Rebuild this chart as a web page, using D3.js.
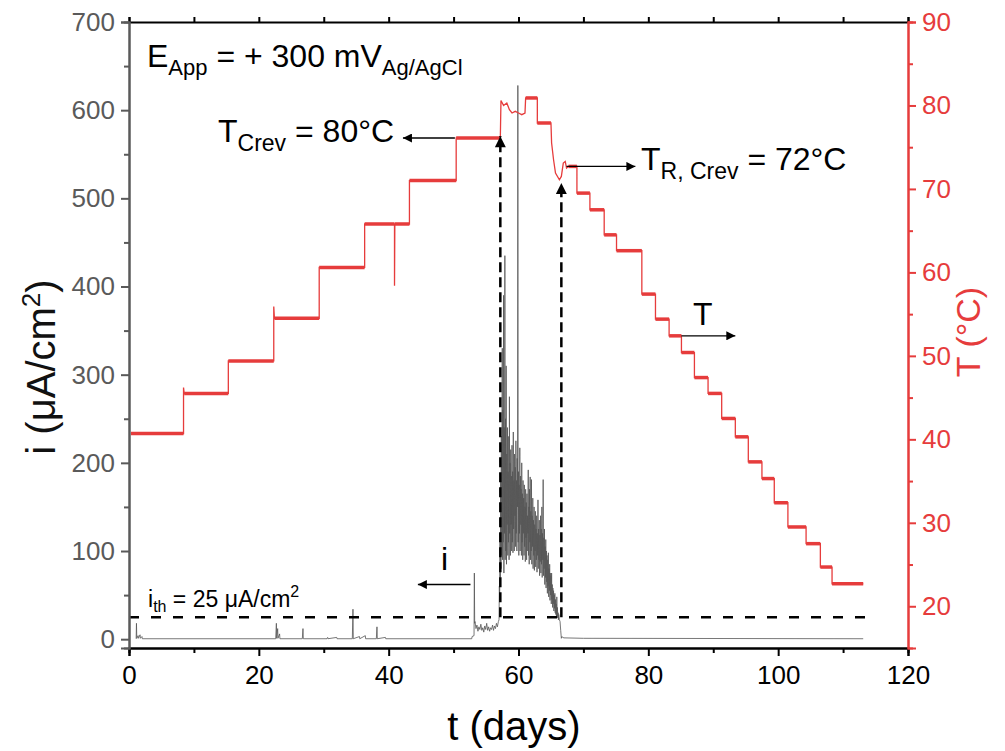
<!DOCTYPE html>
<html>
<head>
<meta charset="utf-8">
<script src="https://cdn.jsdelivr.net/npm/d3@7/dist/d3.min.js"></script>
<style>
  body { margin: 0; background: #fff; }
  text { font-family: Arial, "Liberation Sans", sans-serif; }
</style>
</head>
<body>
<div id="chart"></div>
<script>
// x ticks and axis ticks
var dayTicks = [0, 20, 40, 60, 80, 100, 120];
var dayMinor = [10, 30, 50, 70, 90, 110];
var iTicks = [0, 100, 200, 300, 400, 500, 600, 700];
var iMinor = [50, 150, 250, 350, 450, 550, 650];
var tempTicks = [20, 30, 40, 50, 60, 70, 80, 90];
var tempMinor = [25, 35, 45, 55, 65, 75, 85];

// temperature (°C) vs time (days)
var tempPts = [
  [0.3, 40.7], [8.4, 40.7], [8.4, 46.2], [8.5, 45.5], [15.3, 45.5],
  [15.3, 49.4], [22.3, 49.4], [22.3, 55.9], [22.4, 54.5], [29.3, 54.5],
  [29.3, 60.6], [36.3, 60.6], [36.3, 65.8], [40.9, 65.8], [40.9, 58.4],
  [40.95, 65.8], [43.2, 65.8], [43.2, 71.0], [50.4, 71.0], [50.4, 76.1],
  [57.2, 76.1], [57.3, 80.6], [57.7, 80.0], [58.2, 80.3], [58.6, 79.5],
  [59.0, 79.1], [59.5, 79.3], [60.0, 79.1], [60.5, 78.9], [61.0, 79.1],
  [61.1, 80.9], [62.9, 80.9], [62.9, 77.9], [65.0, 77.9], [65.1, 75.5],
  [65.4, 73.5], [65.7, 71.9], [66.3, 71.1], [66.6, 71.5], [66.9, 73.1],
  [67.2, 73.3], [67.4, 72.5], [67.7, 72.7], [69.0, 72.7], [69.0, 69.5],
  [71.0, 69.5], [71.0, 67.5], [73.2, 67.5], [73.2, 64.5], [75.1, 64.5],
  [75.1, 62.6], [79.0, 62.6], [79.0, 57.4], [81.1, 57.4], [81.1, 54.4],
  [83.2, 54.4], [83.2, 52.4], [85.1, 52.4], [85.1, 50.4], [87.1, 50.4],
  [87.1, 47.4], [89.2, 47.4], [89.2, 45.5], [91.3, 45.5], [91.3, 42.5],
  [93.4, 42.5], [93.4, 40.3], [95.4, 40.3], [95.4, 37.3], [97.5, 37.3],
  [97.5, 35.3], [99.4, 35.3], [99.4, 32.4], [101.5, 32.4], [101.5, 29.5],
  [104.3, 29.5], [104.3, 27.5], [106.5, 27.5], [106.5, 24.7], [108.3, 24.7],
  [108.3, 22.7], [113.1, 22.7]
];

// current density (µA/cm²) vs time (days)
var currentPts = [
  [1.1, 0.5], [1.15, 18], [1.2, 1], [1.4, 4], [1.45, 1], [1.7, 5], [1.75, 1],
  [2.0, 3], [2.05, 0.5], [22.6, 0.5], [22.7, 18], [22.75, 1], [22.9, 12],
  [22.95, 1], [23.2, 6], [23.25, 0.5], [26.7, 0.5], [26.8, 12], [26.85, 0.5],
  [30.5, 0.5], [30.6, 2], [30.65, 0.5], [32.0, 2], [32.05, 0.5], [34.4, 0.5],
  [34.5, 34], [34.55, 0.5], [35.5, 3], [35.55, 0.5], [36.4, 4], [36.45, 0.5],
  [38.1, 0.5], [38.2, 14], [38.25, 0.5], [39.5, 2], [39.55, 0.5], [52.8, 0.5],
  [52.85, 3], [53.15, 4], [53.2, 75], [53.25, 18], [53.3, 20], [53.45, 12],
  [53.6, 16], [53.75, 9], [53.9, 14], [54.05, 11], [54.2, 17], [54.35, 10],
  [54.5, 13], [54.65, 8], [54.8, 15], [54.95, 11], [55.1, 18], [55.25, 10],
  [55.4, 14], [55.55, 9], [55.7, 13], [55.85, 11], [56.0, 16], [56.15, 10],
  [56.3, 15], [56.45, 12], [56.6, 18], [56.75, 14], [56.9, 20], [57.0, 22],
  [57.05, 60], [57.10, 45], [57.15, 120], [57.20, 70], [57.25, 180], [57.30, 80],
  [57.35, 230], [57.40, 95], [57.45, 200], [57.50, 330], [57.55, 90], [57.60, 260],
  [57.65, 110], [57.70, 390], [57.75, 75], [57.80, 240], [57.85, 120], [57.90, 435],
  [57.95, 90], [58.00, 250], [58.05, 100], [58.10, 310], [58.15, 85], [58.20, 210],
  [58.25, 130], [58.30, 240], [58.35, 95], [58.40, 190], [58.45, 110], [58.50, 230],
  [58.55, 90], [58.60, 275], [58.65, 120], [58.70, 200], [58.75, 95], [58.80, 215],
  [58.85, 130], [58.90, 185], [58.95, 100], [59.00, 220], [59.05, 110], [59.10, 190],
  [59.15, 98], [59.20, 235], [59.25, 125], [59.30, 180], [59.35, 100], [59.40, 210],
  [59.45, 140], [59.50, 195], [59.55, 105], [59.60, 225], [59.65, 120], [59.70, 180],
  [59.75, 100], [59.80, 205], [59.85, 150], [59.90, 628], [59.95, 110], [60.00, 190],
  [60.05, 95], [60.10, 175], [60.15, 120], [60.20, 217], [60.25, 100], [60.30, 185],
  [60.35, 130], [60.40, 170], [60.45, 95], [60.50, 200], [60.55, 110], [60.60, 165],
  [60.65, 90], [60.70, 180], [60.75, 120], [60.80, 160], [60.85, 95], [60.90, 175],
  [60.95, 105], [61.00, 150], [61.05, 88], [61.10, 170], [61.15, 115], [61.20, 155],
  [61.25, 90], [61.30, 165], [61.35, 100], [61.40, 140], [61.45, 120], [61.50, 192],
  [61.55, 95], [61.60, 150], [61.65, 85], [61.70, 170], [61.75, 110], [61.80, 184],
  [61.85, 90], [61.90, 145], [61.95, 100], [62.00, 181], [62.05, 85], [62.10, 140],
  [62.15, 105], [62.20, 160], [62.25, 80], [62.30, 135], [62.35, 95], [62.40, 150],
  [62.45, 78], [62.50, 130], [62.55, 100], [62.60, 145], [62.65, 82], [62.70, 125],
  [62.75, 90], [62.80, 140], [62.85, 76], [62.90, 120], [62.95, 95], [63.00, 158],
  [63.05, 80], [63.10, 125], [63.15, 90], [63.20, 135], [63.25, 72], [63.30, 118],
  [63.35, 88], [63.40, 140], [63.45, 75], [63.50, 125], [63.55, 85], [63.60, 150],
  [63.65, 70], [63.70, 120], [63.75, 90], [63.80, 181], [63.85, 72], [63.90, 115],
  [63.95, 80], [64.00, 125], [64.05, 62], [64.10, 105], [64.15, 70], [64.20, 113],
  [64.25, 58], [64.30, 100], [64.35, 65], [64.40, 95], [64.45, 52], [64.50, 90],
  [64.55, 60], [64.60, 98], [64.65, 48], [64.70, 80], [64.75, 55], [64.80, 85],
  [64.85, 44], [64.90, 75], [64.95, 50], [65.00, 72], [65.05, 40], [65.10, 75],
  [65.15, 45], [65.20, 62], [65.25, 36], [65.30, 58], [65.35, 40], [65.40, 55],
  [65.45, 32], [65.50, 50], [65.55, 35], [65.60, 52], [65.65, 30], [65.70, 45],
  [65.75, 28], [65.80, 40], [65.85, 26], [65.90, 48], [65.95, 25], [66.00, 36],
  [66.05, 24], [66.10, 30], [66.15, 22], [66.20, 28], [66.30, 22], [66.40, 20],
  [66.50, 10], [66.60, 1], [66.70, 3], [66.80, 2], [67.00, 1.5], [70.0, 1],
  [113.1, 0.5]
];

var iThreshold = 25;

var margin = {top: 22, right: 97, bottom: 103, left: 129},
  width = 1005 - margin.left - margin.right,
  height = 751 - margin.top - margin.bottom;

var red = "#e63c3c", grey = "#5a5a5a";

var svg = d3.select("#chart").append("svg")
  .attr("width", 1005)
  .attr("height", 751);

var defs = svg.append("defs");
function addMarker(id, w, h) {
  defs.append("marker")
    .attr("id", id)
    .attr("viewBox", "0 0 10 10")
    .attr("refX", 10).attr("refY", 5)
    .attr("markerWidth", w).attr("markerHeight", h)
    .attr("markerUnits", "userSpaceOnUse")
    .attr("orient", "auto")
    .append("path")
    .attr("d", "M0,0 L10,5 L0,10 z")
    .attr("fill", "#000");
}
addMarker("arr", 15, 9);
addMarker("arrBig", 16, 11);

var g = svg.append("g")
  .attr("transform", "translate(" + margin.left + "," + margin.top + ")");

var x = d3.scaleLinear().domain([0, 120]).range([0, width]);
var yI = d3.scaleLinear().domain([-10, 700]).range([height, 0]);
var yT = d3.scaleLinear().domain([15, 90]).range([height, 0]);

// current trace
var lineI = d3.line()
  .x(function(d) { return x(d[0]); })
  .y(function(d) { return yI(d[1]); });
g.append("path")
  .datum(currentPts)
  .attr("fill", "none")
  .attr("stroke", "#555")
  .attr("stroke-width", 0.8)
  .attr("stroke-linejoin", "round")
  .attr("d", lineI);

// temperature trace
var lineT = d3.line()
  .x(function(d) { return x(d[0]); })
  .y(function(d) { return yT(d[1]); });
g.append("path")
  .datum(tempPts)
  .attr("fill", "none")
  .attr("stroke", red)
  .attr("stroke-width", 1.3)
  .attr("d", lineT);

// plateaus look thick because of measurement noise
var plateaus = [];
for (var k = 1; k < tempPts.length; k++) {
  if (tempPts[k][1] === tempPts[k - 1][1] && tempPts[k][0] - tempPts[k - 1][0] > 1) {
    plateaus.push([tempPts[k - 1], tempPts[k]]);
  }
}
g.selectAll(".plateau")
  .data(plateaus)
  .enter().append("path")
  .attr("class", "plateau")
  .attr("fill", "none")
  .attr("stroke", red)
  .attr("stroke-width", 3.5)
  .attr("d", lineT);

// threshold line
g.append("line")
  .attr("x1", x(0)).attr("x2", x(113.5))
  .attr("y1", yI(iThreshold)).attr("y2", yI(iThreshold))
  .attr("stroke", "#000")
  .attr("stroke-width", 2.5)
  .attr("stroke-dasharray", "10,12");

// vertical dashed arrows at onset and repassivation
[[57.2, 76.3], [66.6, 70.7]].forEach(function(a) {
  g.append("line")
    .attr("x1", x(a[0])).attr("x2", x(a[0]))
    .attr("y1", yI(iThreshold)).attr("y2", yT(a[1]))
    .attr("stroke", "#000")
    .attr("stroke-width", 2.5)
    .attr("stroke-dasharray", "10,5")
    .attr("marker-end", "url(#arrBig)");
});

// horizontal arrows
function hArrow(x1, x2, yy) {
  g.append("line")
    .attr("x1", x1).attr("x2", x2)
    .attr("y1", yy).attr("y2", yy)
    .attr("stroke", "#000")
    .attr("stroke-width", 1.3)
    .attr("marker-end", "url(#arr)");
}
hArrow(x(50.2), x(42.2), yT(76.1));
hArrow(x(67.4), x(78.0), yT(72.7));
hArrow(x(85.1), x(93.4), yT(52.4));
hArrow(x(52.6), x(44.5), yI(62));

// axes
function styleAxis(sel, color) {
  sel.selectAll(".domain").attr("stroke", color).attr("stroke-width", 2);
  sel.selectAll(".tick line").attr("stroke", color).attr("stroke-width", 2);
  sel.selectAll(".tick text").attr("fill", color).style("font-size", "26px");
}

styleAxis(g.append("g")
  .attr("transform", "translate(0," + height + ")")
  .call(d3.axisBottom(x).tickValues(dayTicks).tickSize(8).tickPadding(10)), "#000");
styleAxis(g.append("g")
  .attr("transform", "translate(0," + height + ")")
  .call(d3.axisBottom(x).tickValues(dayMinor).tickSize(5).tickFormat("")), "#000");
styleAxis(g.append("g")
  .call(d3.axisTop(x).tickValues(dayTicks.concat(dayMinor)).tickSize(5).tickFormat("")), "#000");

styleAxis(g.append("g")
  .call(d3.axisLeft(yI).tickValues(iTicks).tickSize(8).tickPadding(6)), grey);
styleAxis(g.append("g")
  .call(d3.axisLeft(yI).tickValues(iMinor).tickSize(5).tickFormat("")), grey);

styleAxis(g.append("g")
  .attr("transform", "translate(" + width + ",0)")
  .call(d3.axisRight(yT).tickValues(tempTicks).tickSize(8).tickPadding(6)), red);
styleAxis(g.append("g")
  .attr("transform", "translate(" + width + ",0)")
  .call(d3.axisRight(yT).tickValues(tempMinor).tickSize(5).tickFormat("")), red);

// axis titles
svg.append("text")
  .attr("x", 514).attr("y", 740)
  .attr("text-anchor", "middle")
  .style("font-size", "40px")
  .text("t (days)");

var yTitle = svg.append("text")
  .attr("transform", "translate(55,367) rotate(-90)")
  .attr("text-anchor", "middle")
  .style("font-size", "40px")
  .attr("fill", "#111");
yTitle.append("tspan").text("i (μA/cm");
yTitle.append("tspan").attr("dy", -15).style("font-size", "26px").text("2");
yTitle.append("tspan").attr("dy", 15).text(")");

svg.append("text")
  .attr("transform", "translate(980,332) rotate(-90)")
  .attr("text-anchor", "middle")
  .style("font-size", "34px")
  .attr("fill", red)
  .text("T (°C)");

// annotations
var eApp = svg.append("text").attr("x", 147).attr("y", 67).style("font-size", "32px");
eApp.append("tspan").text("E");
eApp.append("tspan").attr("dy", 8).style("font-size", "22px").text("App");
eApp.append("tspan").attr("dy", -8).text(" = + 300 mV");
eApp.append("tspan").attr("dy", 8).style("font-size", "22px").text("Ag/AgCl");

var tCrev = svg.append("text").attr("x", 218).attr("y", 142).style("font-size", "32px");
tCrev.append("tspan").text("T");
tCrev.append("tspan").attr("dy", 9).style("font-size", "23px").text("Crev");
tCrev.append("tspan").attr("dy", -9).text(" = 80°C");

var tR = svg.append("text").attr("x", 641).attr("y", 170).style("font-size", "32px");
tR.append("tspan").text("T");
tR.append("tspan").attr("dy", 9).style("font-size", "23px").text("R, Crev");
tR.append("tspan").attr("dy", -9).text(" = 72°C");

svg.append("text").attr("x", 693).attr("y", 325).style("font-size", "32px").text("T");
svg.append("text").attr("x", 441).attr("y", 570).style("font-size", "32px").text("i");

var ith = svg.append("text").attr("x", 148).attr("y", 607).style("font-size", "23px");
ith.append("tspan").text("i");
ith.append("tspan").attr("dy", 5).style("font-size", "16px").text("th");
ith.append("tspan").attr("dy", -5).text(" = 25 μA/cm");
ith.append("tspan").attr("dy", -10).style("font-size", "16px").text("2");
</script>
</body>
</html>
